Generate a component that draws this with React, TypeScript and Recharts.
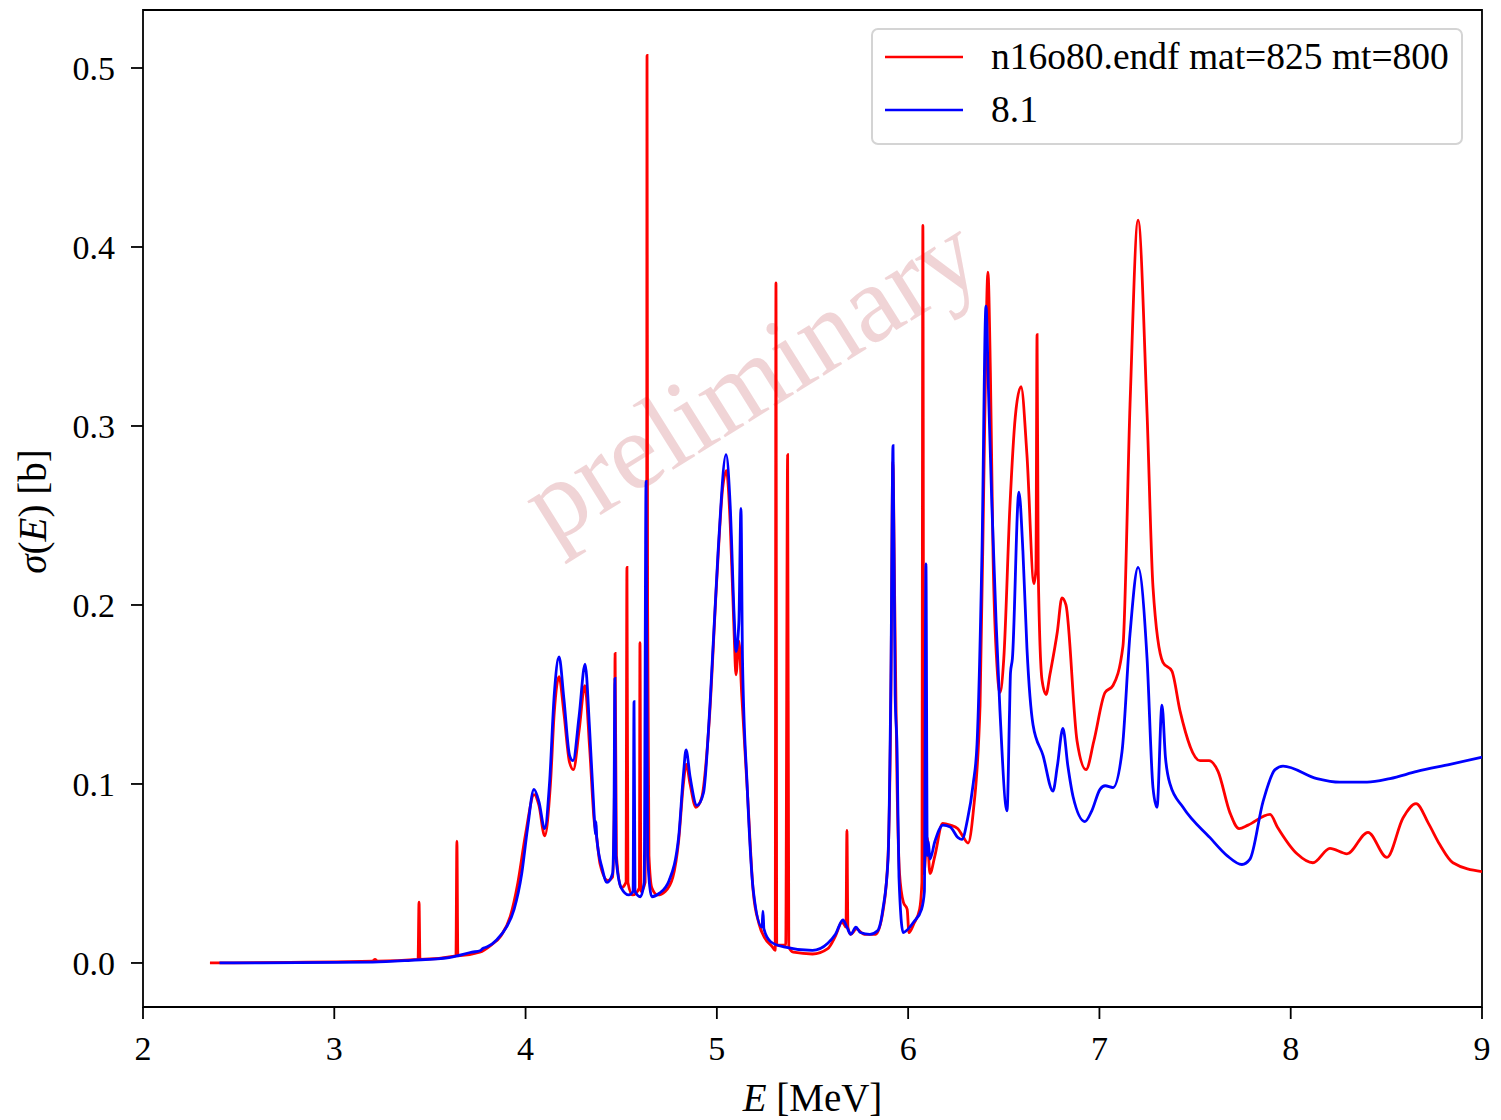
import React from 'react';
import { LineChart, Line, XAxis, YAxis, Legend, ReferenceArea } from 'recharts';

// n16o80.endf mat=825 mt=800 (red)
const redE = [
  2.35, 3.2, 3.213, 3.225, 3.438, 3.443, 3.448, 3.636, 3.641, 3.646,
  3.76, 3.82, 3.87, 3.92, 3.96, 4.0, 4.045, 4.07, 4.1, 4.13,
  4.15, 4.175, 4.2, 4.23, 4.25, 4.28, 4.31, 4.335, 4.36, 4.368,
  4.39, 4.43, 4.455, 4.465, 4.468, 4.475, 4.5, 4.525, 4.53, 4.535,
  4.56, 4.595, 4.598, 4.603, 4.625, 4.633, 4.635, 4.638, 4.645, 4.66,
  4.69, 4.73, 4.77, 4.8, 4.825, 4.84, 4.86, 4.89, 4.92, 4.96,
  5.0, 5.03, 5.05, 5.07, 5.09, 5.1, 5.115, 5.13, 5.16, 5.19,
  5.22, 5.25, 5.29, 5.305, 5.309, 5.313, 5.36, 5.37, 5.376, 5.4,
  5.5, 5.58, 5.62, 5.655, 5.675, 5.68, 5.685, 5.7, 5.73, 5.77,
  5.83, 5.87, 5.895, 5.91, 5.92, 5.93, 5.942, 5.955, 5.975, 5.995,
  6.004, 6.03, 6.06, 6.072, 6.077, 6.082, 6.1, 6.114, 6.14, 6.18,
  6.22, 6.26, 6.29, 6.313, 6.34, 6.376, 6.4, 6.417, 6.43, 6.444,
  6.465, 6.48, 6.5, 6.532, 6.56, 6.59, 6.621, 6.658, 6.668, 6.674,
  6.68, 6.7, 6.721, 6.741, 6.78, 6.804, 6.825, 6.883, 6.93, 6.971,
  7.029, 7.071, 7.123, 7.16, 7.202, 7.249, 7.28, 7.332, 7.379, 7.421,
  7.526, 7.573, 7.62, 7.682, 7.73, 7.777, 7.892, 7.93, 8.033, 8.116,
  8.205, 8.294, 8.404, 8.503, 8.587, 8.655, 8.72, 8.78, 8.848, 9.0,
];
const redSigma = [
  0, 0.001, 0.002, 0.001, 0.002, 0.034, 0.002, 0.004, 0.068, 0.004,
  0.006, 0.01, 0.015, 0.026, 0.045, 0.072, 0.094, 0.088, 0.071, 0.1,
  0.14, 0.16, 0.14, 0.112, 0.108, 0.13, 0.155, 0.12, 0.078, 0.073,
  0.055, 0.046, 0.048, 0.1, 0.173, 0.06, 0.042, 0.045, 0.221, 0.045,
  0.038, 0.042, 0.179, 0.04, 0.045, 0.2, 0.507, 0.2, 0.06, 0.042,
  0.038, 0.04, 0.048, 0.068, 0.1, 0.111, 0.1, 0.087, 0.092, 0.135,
  0.215, 0.265, 0.275, 0.245, 0.185, 0.161, 0.18, 0.15, 0.095, 0.04,
  0.022, 0.014, 0.009, 0.007, 0.38, 0.01, 0.01, 0.284, 0.009, 0.006,
  0.005, 0.008, 0.015, 0.023, 0.02, 0.074, 0.02, 0.016, 0.019, 0.016,
  0.016, 0.03, 0.06, 0.15, 0.28, 0.2, 0.1, 0.05, 0.034, 0.03,
  0.017, 0.022, 0.03, 0.045, 0.412, 0.05, 0.07, 0.05, 0.06, 0.078,
  0.077, 0.075, 0.07, 0.067, 0.084, 0.144, 0.3, 0.386, 0.33, 0.227,
  0.165, 0.151, 0.17, 0.255, 0.305, 0.322, 0.284, 0.212, 0.22, 0.351,
  0.22, 0.158, 0.15, 0.161, 0.185, 0.204, 0.2, 0.124, 0.108, 0.124,
  0.151, 0.155, 0.177, 0.312, 0.415, 0.307, 0.21, 0.168, 0.163, 0.141,
  0.113, 0.113, 0.107, 0.084, 0.075, 0.077, 0.083, 0.076, 0.061, 0.056,
  0.064, 0.061, 0.073, 0.059, 0.081, 0.089, 0.078, 0.066, 0.056, 0.051,
];

// 8.1 (blue)
const blueE = [
  2.4, 3.2, 3.4, 3.6, 3.72, 3.765, 3.775, 3.8, 3.85, 3.9,
  3.94, 3.98, 4.01, 4.044, 4.07, 4.1, 4.125, 4.15, 4.175, 4.2,
  4.23, 4.248, 4.28, 4.311, 4.335, 4.36, 4.365, 4.368, 4.372, 4.4,
  4.426, 4.455, 4.462, 4.467, 4.472, 4.5, 4.54, 4.562, 4.567, 4.572,
  4.6, 4.62, 4.63, 4.638, 4.66, 4.7, 4.75, 4.8, 4.825, 4.839,
  4.86, 4.896, 4.93, 4.964, 5.006, 5.048, 5.07, 5.09, 5.1, 5.115,
  5.126, 5.134, 5.158, 5.19, 5.236, 5.241, 5.246, 5.28, 5.35, 5.5,
  5.58, 5.62, 5.659, 5.68, 5.7, 5.727, 5.75, 5.8, 5.84, 5.868,
  5.895, 5.91, 5.921, 5.932, 5.942, 5.952, 5.974, 5.99, 6.03, 6.07,
  6.085, 6.093, 6.1, 6.105, 6.114, 6.14, 6.182, 6.22, 6.261, 6.281,
  6.31, 6.34, 6.36, 6.386, 6.407, 6.42, 6.438, 6.46, 6.48, 6.517,
  6.53, 6.535, 6.545, 6.579, 6.6, 6.621, 6.653, 6.705, 6.757, 6.78,
  6.809, 6.835, 6.862, 6.924, 6.96, 7.003, 7.03, 7.071, 7.118, 7.16,
  7.202, 7.249, 7.28, 7.301, 7.327, 7.345, 7.369, 7.437, 7.578, 7.667,
  7.745, 7.787, 7.855, 7.918, 7.96, 8.137, 8.257, 8.399, 8.519, 8.66,
  8.833, 9.0,
];
const blueSigma = [
  0, 0.0005, 0.0015, 0.003, 0.006, 0.007, 0.008, 0.009, 0.013, 0.02,
  0.03, 0.05, 0.075, 0.097, 0.09, 0.075, 0.1, 0.15, 0.171, 0.148,
  0.116, 0.113, 0.138, 0.167, 0.13, 0.08, 0.072, 0.079, 0.07, 0.053,
  0.045, 0.05, 0.08, 0.159, 0.06, 0.042, 0.038, 0.04, 0.146, 0.04,
  0.037, 0.045, 0.269, 0.06, 0.037, 0.039, 0.046, 0.07, 0.105, 0.119,
  0.104, 0.088, 0.095, 0.144, 0.229, 0.284, 0.255, 0.195, 0.174, 0.19,
  0.254, 0.17, 0.1, 0.041, 0.02, 0.029, 0.019, 0.012, 0.009, 0.007,
  0.011, 0.016, 0.024, 0.02, 0.016, 0.02, 0.017, 0.016, 0.018, 0.03,
  0.058, 0.16, 0.289, 0.15, 0.12, 0.048, 0.017, 0.018, 0.023, 0.03,
  0.04, 0.223, 0.06, 0.068, 0.058, 0.068, 0.077, 0.076, 0.07, 0.069,
  0.08, 0.1, 0.122, 0.229, 0.367, 0.32, 0.255, 0.19, 0.141, 0.085,
  0.14, 0.162, 0.17, 0.263, 0.23, 0.176, 0.133, 0.116, 0.096, 0.11,
  0.131, 0.11, 0.093, 0.079, 0.085, 0.097, 0.099, 0.098, 0.118, 0.184,
  0.221, 0.17, 0.098, 0.087, 0.144, 0.115, 0.1, 0.087, 0.07, 0.06,
  0.055, 0.058, 0.09, 0.108, 0.11, 0.103, 0.101, 0.101, 0.103, 0.107,
  0.111, 0.115,
];

const xTicks = [2, 3, 4, 5, 6, 7, 8, 9];
const yTicks = [0, 0.1, 0.2, 0.3, 0.4, 0.5];
const seriesNames = ['n16o80.endf mat=825 mt=800', '8.1'];
const seriesColors = ['#ff0000', '#0000ff'];

const redData = redE.map((E, i) => ({ E, sigma: redSigma[i] }));
const blueData = blueE.map((E, i) => ({ E, sigma: blueSigma[i] }));

const FONT = '"Liberation Serif", "DejaVu Serif", serif';
const X_DOMAIN: [number, number] = [2, 9];
const Y_DOMAIN: [number, number] = [-0.0246, 0.5324];

const YLabel = (props: any) => {
  const { x, y, height } = props.viewBox;
  const cx = x + 32;
  const cy = y + height / 2 + 3;
  return (
    <text
      x={cx}
      y={cy}
      transform={`rotate(-90, ${cx}, ${cy})`}
      textAnchor="middle"
      dominantBaseline="central"
      fontFamily={FONT}
      fontSize={39}
      fill="#000"
    >
      <tspan fontStyle="italic">σ</tspan>
      <tspan>(</tspan>
      <tspan fontStyle="italic">E</tspan>
      <tspan>) [b]</tspan>
    </text>
  );
};

const XLabel = (props: any) => {
  const { x, y, width } = props.viewBox;
  return (
    <text
      x={x + width / 2}
      y={y + 104}
      textAnchor="middle"
      fontFamily={FONT}
      fontSize={39}
      fill="#000"
    >
      <tspan fontStyle="italic">E</tspan>
      <tspan> [MeV]</tspan>
    </text>
  );
};

const renderLegend = () => (
  <div
    style={{
      width: 588,
      height: 113,
      border: '2px solid #d4d4d4',
      borderRadius: 7,
      background: 'rgba(255,255,255,0.8)',
      fontFamily: FONT,
      fontSize: 37.5,
      position: 'relative',
    }}
  >
    {seriesNames.map((name, i) => (
      <div
        key={name}
        style={{ position: 'absolute', left: 12, top: 3 + i * 53, height: 48, display: 'flex', alignItems: 'center' }}
      >
        <svg width={80} height={10} style={{ display: 'block' }}>
          <line x1={0} y1={5} x2={78} y2={5} stroke={seriesColors[i]} strokeWidth={2.6} />
        </svg>
        <span style={{ marginLeft: 26, whiteSpace: 'nowrap', lineHeight: '48px' }}>{name}</span>
      </div>
    ))}
  </div>
);

export default function App() {
  return (
    <div style={{ position: 'absolute', left: 0, top: 0, width: 1501, height: 1120, background: '#fff' }}>
      <svg width={1501} height={1120} style={{ position: 'absolute', left: 0, top: 0 }}>
        <text
          x={750}
          y={378}
          transform="rotate(-32, 750, 378)"
          textAnchor="middle"
          dominantBaseline="central"
          fontFamily={FONT}
          fontSize={110}
          fill="#f0d4d6"
        >
          preliminary
        </text>
      </svg>
      <div style={{ position: 'absolute', left: 0, top: 0 }}>
        <LineChart
          width={1501}
          height={1120}
          margin={{ top: 10, right: 19, bottom: 0, left: 0 }}
        >
          <XAxis
            type="number"
            dataKey="E"
            domain={X_DOMAIN}
            ticks={xTicks}
            allowDataOverflow
            height={113}
            tickSize={12}
            tickMargin={17}
            axisLine={false}
            tickLine={{ stroke: '#000', strokeWidth: 1.8 }}
            tick={{ fill: '#000', fontSize: 34, fontFamily: FONT }}
            label={<XLabel />}
          />
          <YAxis
            type="number"
            dataKey="sigma"
            domain={Y_DOMAIN}
            ticks={yTicks}
            allowDataOverflow
            width={143}
            tickSize={12}
            tickMargin={16}
            axisLine={false}
            tickLine={{ stroke: '#000', strokeWidth: 1.8 }}
            tick={{ fill: '#000', fontSize: 34, fontFamily: FONT }}
            tickFormatter={(v: number) => v.toFixed(1)}
            label={<YLabel />}
          />
          <ReferenceArea
            x1={X_DOMAIN[0]}
            x2={X_DOMAIN[1]}
            y1={Y_DOMAIN[0]}
            y2={Y_DOMAIN[1]}
            fill="none"
            stroke="#000"
            strokeWidth={1.8}
            ifOverflow="visible"
          />
          <Line
            data={redData}
            dataKey="sigma"
            name={seriesNames[0]}
            stroke={seriesColors[0]}
            strokeWidth={2.8}
            dot={false}
            activeDot={false}
            type="monotoneX"
            isAnimationActive={false}
          />
          <Line
            data={blueData}
            dataKey="sigma"
            name={seriesNames[1]}
            stroke={seriesColors[1]}
            strokeWidth={2.8}
            dot={false}
            activeDot={false}
            type="monotoneX"
            isAnimationActive={false}
          />
          <Legend
            layout="vertical"
            align="center"
            verticalAlign="middle"
            content={renderLegend}
            wrapperStyle={{ position: 'absolute', left: 871, top: 28, width: 592, height: 117 }}
          />
        </LineChart>
      </div>
    </div>
  );
}
